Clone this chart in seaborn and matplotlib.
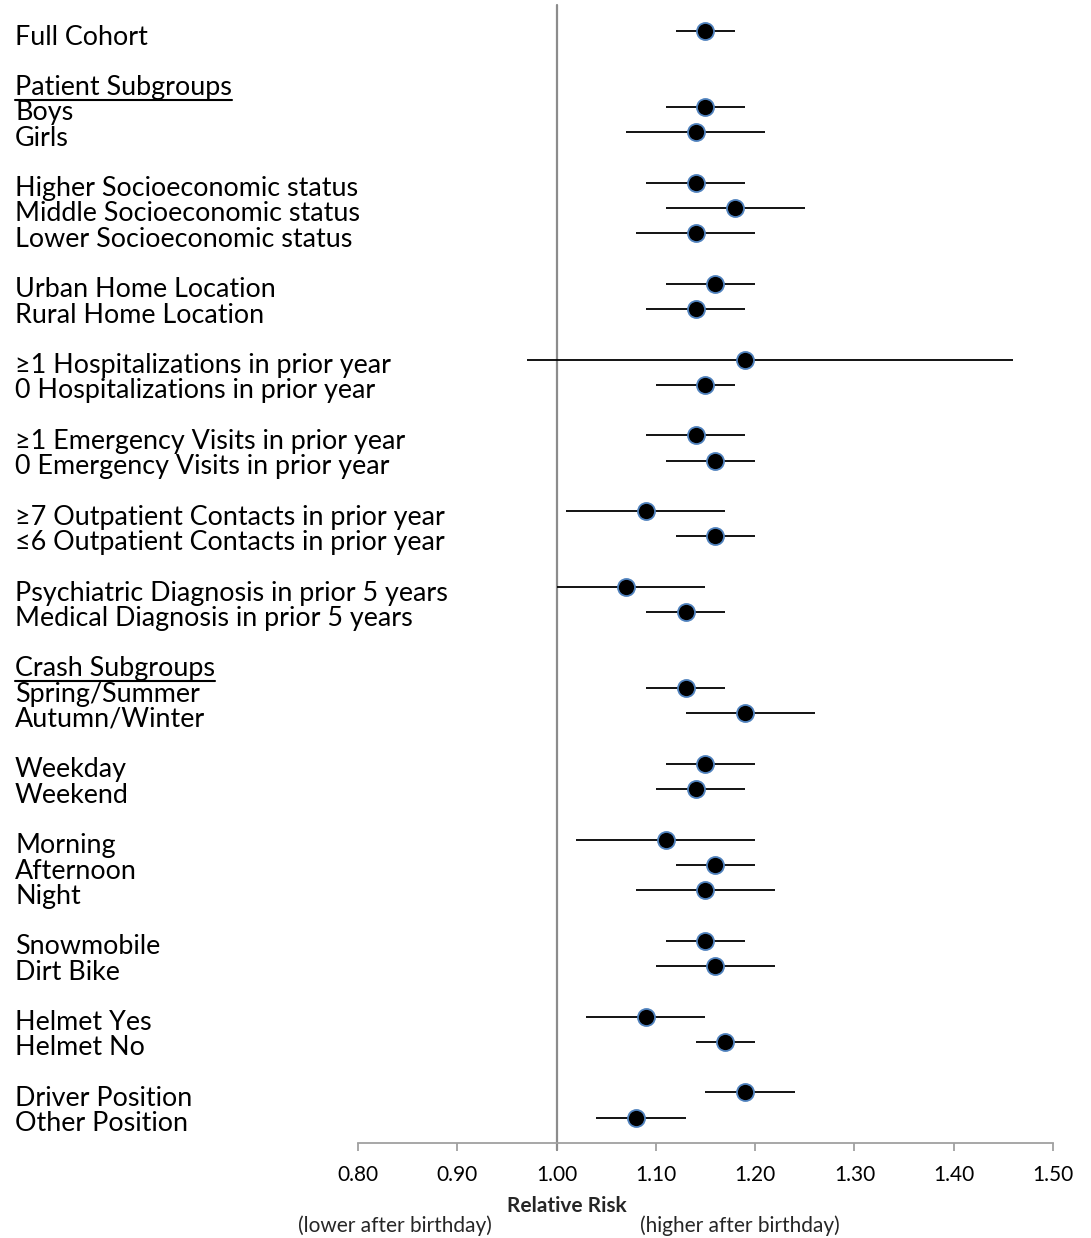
import matplotlib
matplotlib.use("Agg")
import matplotlib.pyplot as plt
import matplotlib.transforms as mtransforms
from matplotlib.lines import Line2D
import seaborn as sns
import pandas as pd

# Subgroup labels, their row slots, relative risks and 95% CIs
labels = [
    "Full Cohort",
    "Boys", "Girls",
    "Higher Socioeconomic status", "Middle Socioeconomic status", "Lower Socioeconomic status",
    "Urban Home Location", "Rural Home Location",
    "≥1 Hospitalizations in prior year", "0 Hospitalizations in prior year",
    "≥1 Emergency Visits in prior year", "0 Emergency Visits in prior year",
    "≥7 Outpatient Contacts in prior year", "≤6 Outpatient Contacts in prior year",
    "Psychiatric Diagnosis in prior 5 years", "Medical Diagnosis in prior 5 years",
    "Spring/Summer", "Autumn/Winter",
    "Weekday", "Weekend",
    "Morning", "Afternoon", "Night",
    "Snowmobile", "Dirt Bike",
    "Helmet Yes", "Helmet No",
    "Driver Position", "Other Position",
]
rows = [0, 3, 4, 6, 7, 8, 10, 11, 13, 14, 16, 17, 19, 20, 22, 23,
        26, 27, 29, 30, 32, 33, 34, 36, 37, 39, 40, 42, 43]
rr = [1.15, 1.15, 1.14, 1.14, 1.18, 1.14, 1.16, 1.14, 1.19, 1.15,
      1.14, 1.16, 1.09, 1.16, 1.07, 1.13, 1.13, 1.19, 1.15, 1.14,
      1.11, 1.16, 1.15, 1.15, 1.16, 1.09, 1.17, 1.19, 1.08]
ci_low = [1.12, 1.11, 1.07, 1.09, 1.11, 1.08, 1.11, 1.09, 0.97, 1.10,
          1.09, 1.11, 1.01, 1.12, 1.00, 1.09, 1.09, 1.13, 1.11, 1.10,
          1.02, 1.12, 1.08, 1.11, 1.10, 1.03, 1.14, 1.15, 1.04]
ci_high = [1.18, 1.19, 1.21, 1.19, 1.25, 1.20, 1.20, 1.19, 1.46, 1.18,
           1.19, 1.20, 1.17, 1.20, 1.15, 1.17, 1.17, 1.26, 1.20, 1.19,
           1.20, 1.20, 1.22, 1.19, 1.22, 1.15, 1.20, 1.24, 1.13]
headers = ["Patient Subgroups", "Crash Subgroups"]
header_rows = [2, 25]
x_ticks = [0.80, 0.90, 1.00, 1.10, 1.20, 1.30, 1.40, 1.50]

df = pd.DataFrame({"label": labels, "row": rows, "rr": rr,
                   "low": ci_low, "high": ci_high})

sns.set_theme(style="white")
plt.rcParams["font.family"] = ["Lato", "DejaVu Sans"]

W, H, DPI = 1091, 1238, 100
fig = plt.figure(figsize=(W / DPI, H / DPI), dpi=DPI)
ax = fig.add_axes([358 / W, 1 - 1143 / H, 695 / W, (1143 - 5) / H])

# Confidence intervals
ax.hlines(df["row"], df["low"], df["high"], color="black", lw=1.3, zorder=2)
# Point estimates
sns.scatterplot(data=df, x="rr", y="row", ax=ax, s=150, color="black",
                edgecolor="#4F81BD", linewidth=1.3, zorder=3, legend=False)

# Reference line at RR = 1
ax.axvline(1.0, ymin=-0.006, ymax=1, color="#8C8C8C", lw=1.6,
           clip_on=False, zorder=1)

ax.set_xlim(0.80, 1.50)
ax.set_ylim(44.0, -1.03)
ax.set_xticks(x_ticks)
ax.set_xticklabels([f"{t:.2f}" for t in x_ticks], fontsize=15)
ax.set_yticks([])
ax.set_xlabel("")
ax.set_ylabel("")
for side in ["top", "right", "left"]:
    ax.spines[side].set_visible(False)
ax.spines["bottom"].set_color("#A0A0A0")
ax.spines["bottom"].set_linewidth(1.3)
ax.tick_params(axis="x", direction="out", length=6, width=1.3,
               color="#A0A0A0", pad=9.5, labelcolor="black", bottom=True)

# Row labels on the left, baseline slightly below each row
blend = mtransforms.blended_transform_factory(fig.transFigure, ax.transData)
shift = mtransforms.ScaledTranslation(0, -13.5 / DPI, fig.dpi_scale_trans)
lab_tr = blend + shift
x_lab = 15 / W
LAB_FS = 19.4
for lab, r in zip(labels, rows):
    fig.text(x_lab, r, lab, transform=lab_tr, fontsize=LAB_FS, va="baseline",
             ha="left", color="black")

head_texts = []
for h, r in zip(headers, header_rows):
    t = fig.text(x_lab, r, h, transform=lab_tr, fontsize=LAB_FS, va="baseline",
                 ha="left", color="black")
    head_texts.append((t, r))

# Underline the section headers
fig.canvas.draw()
renderer = fig.canvas.get_renderer()
for t, r in head_texts:
    bb = t.get_window_extent(renderer)
    base_y = lab_tr.transform((x_lab, r))[1]
    uy = (base_y - 4.5) / H
    fig.add_artist(Line2D([bb.x0 / W, bb.x1 / W], [uy, uy],
                          transform=fig.transFigure, color="black", lw=1.5))

# Axis caption
fig.text(567 / W, 1 - 1206 / H, "Relative Risk", fontsize=15,
         fontweight="bold", ha="center", va="center")
fig.text(395 / W, 1 - 1226 / H, "(lower after birthday)", fontsize=15,
         ha="center", va="center")
fig.text(740 / W, 1 - 1226 / H, "(higher after birthday)", fontsize=15,
         ha="center", va="center")

fig.savefig("out.png", dpi=DPI, facecolor="white")
